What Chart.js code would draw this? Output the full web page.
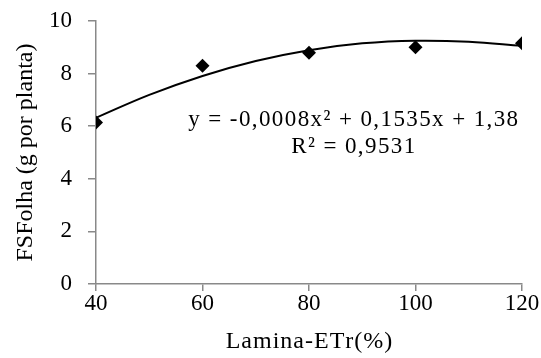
<!DOCTYPE html>
<html lang="pt-BR">
<head>
  <meta charset="UTF-8" />
  <title>FSFolha x Lamina</title>
  <script src="https://cdn.jsdelivr.net/npm/chart.js"></script>
  <style>
    body { margin: 0; background: #fff; }
  </style>
</head>
<body>
  <canvas id="grafico" width="541" height="358"></canvas>

  <script>
    // dados
    const laminas = [40, 60, 80, 100, 120];
    const fsFolha = [6.14, 8.30, 8.79, 9.00, 9.15];

    // linha de tendencia (polinomial)
    const tendX = [40, 50, 60, 70, 80, 90, 100, 110, 120];
    const tendY = [6.32, 7.19, 7.91, 8.48, 8.89, 9.15, 9.25, 9.21, 9.05];

    const equacao = ['y = -0,0008x\u00B2 + 0,1535x + 1,38', 'R\u00B2 = 0,9531'];
    const tituloX = 'Lamina-ETr(%)';
    const fonte = "'Liberation Serif', 'Times New Roman', serif";
    const cinza = '#898989';

    // escreve o texto centrado em cx, com um espaco extra entre as letras
    function textoEspacado(ctx, txt, cx, cy, extra) {
      const chars = Array.from(txt);
      const larg = chars.map(c => ctx.measureText(c).width);
      const total = larg.reduce((a, b) => a + b, 0) + extra * (chars.length - 1);
      let x = cx - total / 2;
      ctx.textAlign = 'left';
      chars.forEach((c, i) => {
        ctx.fillText(c, x, cy);
        x += larg[i] + extra;
      });
    }

    // equacao da tendencia + titulo do eixo x
    const textos = {
      id: 'textos',
      afterDatasetsDraw(chart) {
        const ctx = chart.ctx;
        const area = chart.chartArea;
        const cx = chart.scales.x.getPixelForValue(88.3);
        const cy = chart.scales.y.getPixelForValue(6.25);
        ctx.save();
        ctx.fillStyle = '#000';
        ctx.textBaseline = 'middle';
        ctx.font = '23px ' + fonte;
        textoEspacado(ctx, equacao[0], cx, cy, 1.4);
        textoEspacado(ctx, equacao[1], cx, cy + 27, 1.4);
        ctx.font = '24px ' + fonte;
        textoEspacado(ctx, tituloX, (area.left + area.right) / 2, 342, 1);
        ctx.restore();
      }
    };

    new Chart(document.getElementById('grafico'), {
      type: 'scatter',
      data: {
        datasets: [
          {
            label: 'FSFolha',
            data: laminas.map((x, i) => ({ x: x, y: fsFolha[i] })),
            pointStyle: 'rectRot',
            pointRadius: 7,
            pointHoverRadius: 7,
            backgroundColor: '#000',
            borderColor: '#000',
            borderWidth: 0,
            showLine: false
          },
          {
            label: 'Tendencia',
            data: tendX.map((x, i) => ({ x: x, y: tendY[i] })),
            showLine: true,
            borderColor: '#000',
            borderWidth: 2,
            pointRadius: 0,
            tension: 0.4,
            fill: false
          }
        ]
      },
      options: {
        responsive: false,
        animation: false,
        layout: { padding: { top: 21, right: 19, left: 0, bottom: 0 } },
        plugins: {
          legend: { display: false },
          tooltip: { enabled: false }
        },
        scales: {
          x: {
            type: 'linear',
            min: 40,
            max: 120,
            afterFit: (s) => { s.height = 74; },
            ticks: { stepSize: 20, color: '#000', font: { family: fonte, size: 23 }, padding: -1 },
            grid: { drawOnChartArea: false, tickLength: 7, color: cinza, lineWidth: 1.5 },
            border: { color: cinza, width: 1.5 },
            title: { display: false }
          },
          y: {
            min: 0,
            max: 10,
            afterFit: (s) => { s.width = 96; s.paddingTop = 10; s.paddingBottom = 10; },
            ticks: { stepSize: 2, color: '#000', font: { family: fonte, size: 23 }, padding: 16 },
            grid: { drawOnChartArea: false, tickLength: 8, color: cinza, lineWidth: 1.5 },
            border: { color: cinza, width: 1.5 },
            title: {
              display: true,
              text: 'FSFolha (g por planta)',
              color: '#000',
              font: { family: fonte, size: 24 },
              padding: { top: 11, bottom: 0 }
            }
          }
        }
      },
      plugins: [textos]
    });
  </script>
</body>
</html>
